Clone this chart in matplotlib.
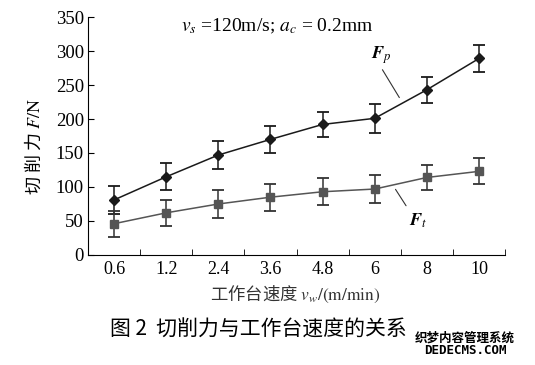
import numpy as np
import matplotlib.pyplot as plt

# data
speeds = ['0.6', '1.2', '2.4', '3.6', '4.8', '6', '8', '10']
fp = [81, 115, 147, 170, 192, 201, 243, 289]
fp_err = [20, 20, 20, 20, 19, 21, 19, 20]
ft = [46, 62, 75, 85, 93, 97, 114, 123]
ft_err = [19, 19, 20, 20, 20, 20, 19, 19]
yticks = [0, 50, 100, 150, 200, 250, 300, 350]

plt.rcParams['mathtext.fontset'] = 'stix'
serif = ['Liberation Serif', 'DejaVu Serif']
cjk = ['Noto Sans CJK SC', 'DejaVu Sans']

fig = plt.figure(figsize=(5.35, 3.65), dpi=100)
ax = fig.add_axes([0.1645, 0.3014, 0.7795, 0.652])

x = np.arange(len(speeds))
ax.errorbar(x, fp, yerr=fp_err, color='#1a1a1a', marker='D', markersize=5,
            lw=1.1, capsize=4, capthick=1.3, elinewidth=1.1)
ax.errorbar(x, ft, yerr=ft_err, color='#555555', marker='s', markersize=5.5,
            lw=1.1, capsize=4, capthick=1.3, elinewidth=1.1, ecolor='#333333')

ax.set_xlim(-0.5, len(speeds) - 0.5)
ax.set_ylim(0, 350)
ax.set_yticks(yticks)
ax.set_xticks(x)
ax.set_xticklabels(speeds, fontfamily=serif, fontsize=13)
ax.set_yticklabels([str(v) for v in yticks], fontfamily=serif, fontsize=13.5)
ax.set_xticks(np.arange(0.5, len(speeds), 1), minor=True)
ax.tick_params(axis='x', which='major', length=0, pad=4)
ax.tick_params(axis='x', which='minor', direction='in', length=4)
ax.tick_params(axis='y', direction='in', length=4, pad=3)
for s in ['top', 'right']:
    ax.spines[s].set_visible(False)

# condition text
ax.text(3.12, 337, r'$v_s$ =120m/s; $a_c$ = 0.2mm', fontfamily=serif,
        fontsize=14, ha='center', va='center')

# series labels with leader lines
ax.annotate('', xy=(5.5, 228), xytext=(5.12, 276),
            arrowprops=dict(arrowstyle='-', color='#333333', lw=0.8))
ax.text(5.12, 294, r'$\mathbfit{F}_p$', fontsize=13, ha='center', va='center')
ax.annotate('', xy=(5.37, 100), xytext=(5.63, 69),
            arrowprops=dict(arrowstyle='-', color='#333333', lw=0.8))
ax.text(5.83, 51, r'$\mathbfit{F}_t$', fontsize=13, ha='center', va='center')

# axis labels
fig.text(0.062, 0.60, r'切 削 力 $F/\mathrm{N}$', rotation=90, fontfamily=cjk,
         fontsize=13, ha='center', va='center')
fig.text(0.551, 0.192, r'工作台速度 $v_w/(\mathrm{m/min})$', fontfamily=cjk,
         fontsize=12.5, ha='center', va='center', color='#333333')

# caption and watermark
fig.text(0.483, 0.096, '图 2  切削力与工作台速度的关系', fontfamily=cjk,
         fontsize=15, ha='center', va='center')
fig.text(0.869, 0.074, '织梦内容管理系统', fontfamily=cjk, fontsize=9,
         fontweight='bold', ha='center', va='center')
fig.text(0.869, 0.041, 'DEDECMS.COM', fontfamily=['DejaVu Sans Mono'],
         fontsize=9, fontweight='bold', ha='center', va='center')

plt.savefig('out.png', dpi=100)
